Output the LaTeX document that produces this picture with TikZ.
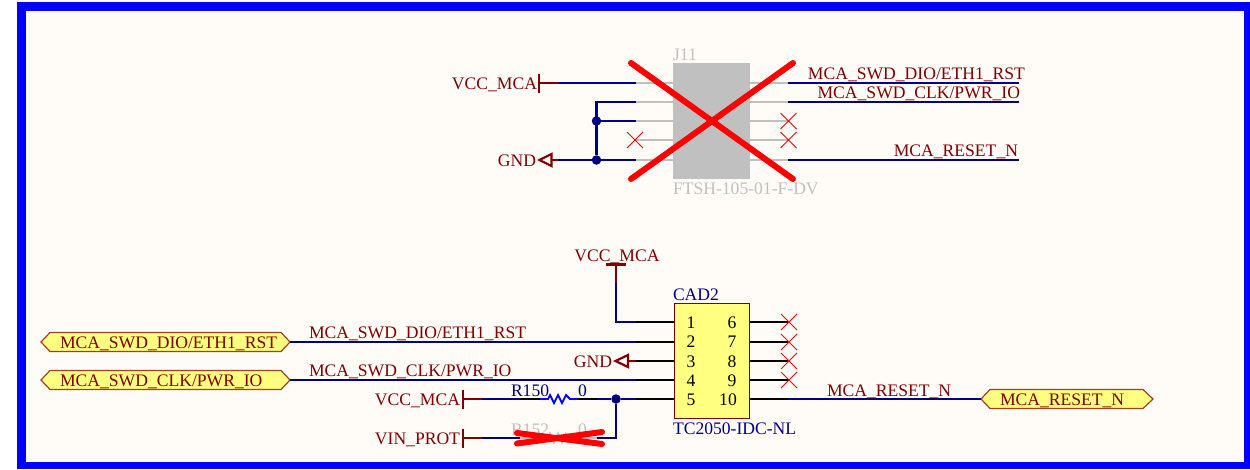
\documentclass[tikz,border=0pt]{standalone}
\usepackage{fontspec}
\setmainfont{Liberation Serif}
\definecolor{bgc}{HTML}{FFFCF8}
\definecolor{framec}{HTML}{0000FF}
\definecolor{dred}{HTML}{800000}
\definecolor{wirec}{HTML}{000080}
\definecolor{greyc}{HTML}{C0C0C0}
\definecolor{portc}{HTML}{FFFF80}
\tikzset{
  txt/.style={inner sep=0pt,outer sep=0pt,font=\fontsize{17.6}{20}\selectfont},
  lbl/.style={txt,text=dred,anchor=base west},
  lblr/.style={txt,text=dred,anchor=base east},
  cmp/.style={txt,text=wirec,anchor=base west},
  gtxt/.style={txt,text=greyc,anchor=base west},
  pnum/.style={txt,text=black,anchor=base},
  wire/.style={draw=wirec,line width=2.4pt},
  stub/.style={draw=dred,line width=2.4pt},
  pinb/.style={draw=black,line width=2.4pt},
  ping/.style={draw=greyc,line width=2.4pt},
  bar/.style={draw=dred,line width=2.2pt},
  nc/.style={draw=red,line width=1pt},
  bigx/.style={draw=red,line width=6pt,line cap=round},
  junction/.style={circle,fill=wirec,inner sep=0pt,minimum size=9.5pt},
  port/.style={draw=dred!75!portc,fill=portc,line width=1.2pt},
  gndsym/.style={draw=dred,line width=2.2pt,fill=bgc,line join=miter},
}
\begin{document}
\begin{tikzpicture}[x=1pt,y=-1pt]
\useasboundingbox (0,0) rectangle (1250,469);
\fill[white] (0,0) rectangle (1250,469);
\fill[framec] (17,2) rectangle (1250,469);
\fill[bgc] (26,11) rectangle (1244,461.5);

% ---------- J11 ----------
\node[gtxt] (j11ref) at (673,60) {J11};
\node[gtxt] (j11val) at (673,194) {FTSH-105-01-F-DV};
\node[fill=greyc,inner sep=0pt,minimum width=77pt,minimum height=116pt] (j11) at (711.5,121) {};
\foreach \n/\y in {1/83,2/102,3/121,4/140,5/160}{
  \coordinate (jl\n) at (673,\y);
  \coordinate (jlp\n) at (636,\y);
  \coordinate (jr\n) at (750,\y);
  \coordinate (jrp\n) at (788,\y);
  \draw[ping] (jl\n) -- (jlp\n);
  \draw[ping] (jr\n) -- (jrp\n);
}
% left side
\coordinate (vcc1bar) at (539,83);
\coordinate (vcc1s) at (558,83);
\draw[bar] (539,73.5) -- (539,92.5);
\draw[stub] (vcc1bar) -- (vcc1s);
\draw[wire] (vcc1s) -- (jlp1);
\node[lblr] (vcc1) at (537,89) {VCC\_MCA};
\coordinate (gnd1s) at (558,160);
\coordinate (gnd1b) at (551,160);
\draw[stub] (gnd1b) -- (gnd1s);
\draw[gndsym] (539.5,160) -- (551.5,154) -- (551.5,166) -- cycle;
\node[lblr] (gnd1) at (536,166) {GND};
\node[junction] (ja) at (596.5,121) {};
\node[junction] (jb) at (596.5,160) {};
\draw[wire] (gnd1s) -- (jb) -- (jlp5);
\draw[wire] (ja) -- (jlp3);
\draw[wire] (jlp2) -- (596.5,102) -- (jb);
\coordinate (ncl) at (635,140);
\draw[nc] (627,132) -- (643,148) (627,148) -- (643,132);
% right side
\coordinate (jre1) at (1019,83);
\coordinate (jre2) at (1019,102);
\coordinate (jre5) at (1019,160);
\draw[wire] (jrp1) -- (jre1);
\draw[wire] (jrp2) -- (jre2);
\draw[wire] (jrp5) -- (jre5);
\node[lblr] (l1) at (1025,79) {MCA\_SWD\_DIO/ETH1\_RST};
\node[lblr] (l2) at (1020,98) {MCA\_SWD\_CLK/PWR\_IO};
\node[lblr] (l3) at (1018,156) {MCA\_RESET\_N};
\foreach \y in {121,140}{
  \draw[nc] (780.5,\y-8) -- (796.5,\y+8) (780.5,\y+8) -- (796.5,\y-8);
}
\draw[bigx] (631,63) -- (793,179);
\draw[bigx] (631,179) -- (793,63);

% ---------- CAD2 ----------
\node[cmp] (cadref) at (673,300) {CAD2};
\node[cmp] (cadval) at (673,434) {TC2050-IDC-NL};
\foreach \n/\y in {1/322,2/342,3/361,4/380,5/399}{
  \coordinate (cl\n) at (674,\y);
  \coordinate (clp\n) at (636,\y);
  \draw[pinb] (cl\n) -- (clp\n);
}
\foreach \n/\y in {6/322,7/342,8/361,9/380,10/399}{
  \coordinate (cr\n) at (749,\y);
  \coordinate (crp\n) at (788,\y);
  \draw[pinb] (cr\n) -- (crp\n);
}
\node[draw=dred,fill=portc,line width=.9pt,inner sep=0pt,minimum width=75pt,minimum height=115pt] (cad) at (711.5,360.5) {};
\foreach \t/\y in {1/328,2/347,3/367,4/386,5/405}{\node[pnum] (pa\t) at (691,\y) {\t};}
\foreach \t/\y in {6/328,7/347,8/367,9/386}{\node[pnum] (pb\t) at (732,\y) {\t};}
\node[pnum] (pb10) at (728,405) {10};
\foreach \y in {322,342,361,380}{
  \draw[nc] (781,\y-8) -- (797,\y+8) (781,\y+8) -- (797,\y-8);
}
% top VCC
\coordinate (vcc2b) at (616,264.5);
\coordinate (vcc2s) at (616,283);
\draw[wire] (vcc2s) -- (616,322) -- (clp1);
\draw[stub] (vcc2b) -- (vcc2s);
\draw[bar] (606,264.5) -- (626,264.5);
\node[txt,text=dred,anchor=base] (vcc2) at (617,261) {VCC\_MCA};
% gnd
\coordinate (gnd2b) at (628,361);
\draw[stub] (gnd2b) -- (clp3);
\draw[gndsym] (615.5,361) -- (628,355) -- (628,367) -- cycle;
\node[lblr] (gnd2) at (612,367) {GND};
% ports
\draw[port] (41,342) -- (50,332.5) -- (281,332.5) -- (290,342) -- (281,351.5) -- (50,351.5) -- cycle;
\node[lbl] (p1) at (60,348) {MCA\_SWD\_DIO/ETH1\_RST};
\coordinate (p1e) at (290,342);
\draw[port] (41,380) -- (50,370.5) -- (281,370.5) -- (290,380) -- (281,389.5) -- (50,389.5) -- cycle;
\node[lbl] (p2) at (60,386) {MCA\_SWD\_CLK/PWR\_IO};
\coordinate (p2e) at (290,380);
\draw[port] (981,399) -- (990,389.5) -- (1143,389.5) -- (1153,399) -- (1143,408.5) -- (990,408.5) -- cycle;
\node[lbl] (p3) at (1000,405) {MCA\_RESET\_N};
\coordinate (p3w) at (981,399);
\draw[wire] (p1e) -- (clp2);
\draw[wire] (p2e) -- (clp4);
\draw[wire] (crp10) -- (p3w);
\node[lbl] (w1) at (309,338) {MCA\_SWD\_DIO/ETH1\_RST};
\node[lbl] (w2) at (309,376) {MCA\_SWD\_CLK/PWR\_IO};
\node[lbl] (w3) at (827,396) {MCA\_RESET\_N};
% R150
\draw[bar] (463,389.5) -- (463,408.5);
\coordinate (v3b) at (463,399);
\coordinate (v3s) at (482,399);
\coordinate (r1a) at (520,399);
\coordinate (r1b) at (540,399);
\coordinate (r1c) at (578,399);
\coordinate (r1d) at (597,399);
\draw[stub] (v3b) -- (v3s);
\draw[wire] (v3s) -- (r1a);
\draw[pinb] (r1a) -- (r1b);
\draw[draw=framec,line width=1.8pt] (r1b) -- (548,399) -- (550,395) -- (554,403) -- (558,395) -- (562,403) -- (566,395) -- (570,399) -- (r1c);
\draw[pinb] (r1c) -- (r1d);
\node[junction] (jc) at (616,399) {};
\draw[wire] (r1d) -- (jc) -- (clp5);
\node[lblr] (vcc3) at (460,405) {VCC\_MCA};
\node[cmp] (r150) at (511,396) {R150};
\node[cmp] (r150v) at (578,396) {0};
% R152
\draw[bar] (463,428.5) -- (463,447.5);
\coordinate (v4b) at (463,438);
\coordinate (v4s) at (482,438);
\coordinate (r2a) at (520,438);
\coordinate (r2d) at (597,438);
\draw[stub] (v4b) -- (v4s);
\draw[wire] (v4s) -- (r2a);
\draw[ping] (r2a) -- (548,438) -- (550,434) -- (554,442) -- (558,434) -- (562,442) -- (566,434) -- (570,438) -- (r2d);
\draw[wire] (r2d) -- (616,438) -- (jc);
\node[lblr] (vin) at (460,444) {VIN\_PROT};
\node[gtxt] (r152) at (511,435) {R152};
\node[gtxt] (r152v) at (578,435) {0};
\draw[bigx] (517,443.5) -- (602,432);
\draw[bigx] (517,433) -- (602,444);
\end{tikzpicture}
\end{document}
